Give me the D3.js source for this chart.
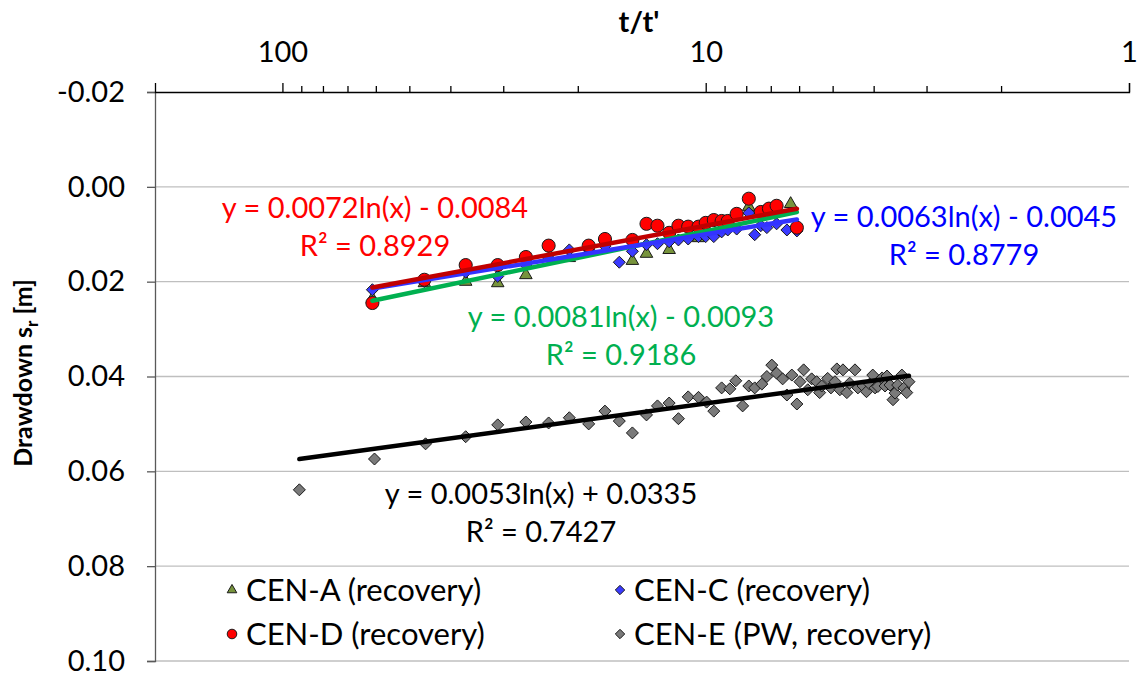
<!DOCTYPE html>
<html>
<head>
<meta charset="utf-8">
<script src="https://cdn.jsdelivr.net/npm/d3@7"></script>
<style>
  body { margin: 0; background: #fff; }
  svg text { font-family: Lato, "Open Sans", sans-serif; }
</style>
</head>
<body>
<div id="chart"></div>
<script>
// t/t' and drawdown s_r [m]
var cenA = [
  [61.3, 0.0236], [46.2, 0.0203], [36.9, 0.0200], [31.0, 0.0203], [26.6, 0.0186],
  [21.0, 0.0150], [14.9, 0.0156], [13.8, 0.0141], [12.2, 0.0133], [10.4, 0.0108],
  [7.91, 0.0042], [6.30, 0.0036]
];
var cenC = [
  [61.3, 0.0217], [46.2, 0.0200], [36.9, 0.0180], [31.0, 0.0189], [26.6, 0.0165],
  [23.5, 0.0150], [21.0, 0.0133], [18.9, 0.0133], [17.3, 0.0125], [16.0, 0.0159],
  [14.9, 0.0136], [13.8, 0.0122], [13.0, 0.0120], [12.2, 0.0116], [11.6, 0.0112],
  [11.0, 0.0110], [10.4, 0.0105], [10.0, 0.0105], [9.57, 0.0105], [9.17, 0.0095],
  [8.87, 0.0091], [8.45, 0.0089], [7.91, 0.0055], [7.66, 0.0101], [7.41, 0.0082],
  [7.17, 0.0086], [6.80, 0.0078], [6.43, 0.0091], [6.09, 0.0093]
];
var cenD = [
  [61.3, 0.0245], [46.2, 0.0196], [36.9, 0.0165], [31.0, 0.0165], [26.6, 0.0148],
  [23.5, 0.0124], [18.9, 0.0124], [17.3, 0.0110], [14.9, 0.0112], [13.8, 0.0078],
  [13.0, 0.0082], [12.2, 0.0097], [11.6, 0.0082], [11.0, 0.0084], [10.4, 0.0084],
  [10.0, 0.0076], [9.57, 0.0070], [9.17, 0.0072], [8.87, 0.0072], [8.45, 0.0057],
  [7.91, 0.0025], [7.41, 0.0053], [7.09, 0.0046], [6.80, 0.0040], [6.09, 0.0086]
];
var cenE = [
  [91.2, 0.0639], [60.6, 0.0574], [45.9, 0.0542], [36.9, 0.0527], [31.0, 0.0502],
  [26.6, 0.0496], [23.5, 0.0498], [21.0, 0.0487], [18.9, 0.0500], [17.3, 0.0473],
  [16.0, 0.0494], [14.9, 0.0519], [13.8, 0.0481], [13.0, 0.0462], [12.2, 0.0456],
  [11.6, 0.0489], [11.0, 0.0443], [10.4, 0.0444], [9.95, 0.0454], [9.57, 0.0473],
  [9.17, 0.0424], [8.77, 0.0426], [8.49, 0.0409], [8.18, 0.0462], [7.91, 0.0420],
  [7.66, 0.0424], [7.37, 0.0416], [7.17, 0.0400], [6.98, 0.0376], [6.80, 0.0393],
  [6.58, 0.0405], [6.43, 0.0439], [6.26, 0.0397], [6.09, 0.0458], [5.99, 0.0411],
  [5.87, 0.0386], [5.74, 0.0428], [5.62, 0.0405], [5.47, 0.0411], [5.38, 0.0434],
  [5.32, 0.0420], [5.15, 0.0404], [5.06, 0.0424], [4.95, 0.0411], [4.90, 0.0384],
  [4.82, 0.0428], [4.74, 0.0386], [4.64, 0.0434], [4.57, 0.0414], [4.44, 0.0386],
  [4.37, 0.0424], [4.25, 0.0420], [4.17, 0.0432], [4.10, 0.0416], [4.03, 0.0397],
  [3.98, 0.0424], [3.92, 0.0421], [3.83, 0.0403], [3.77, 0.0420], [3.73, 0.0399],
  [3.67, 0.0418], [3.61, 0.0449], [3.57, 0.0435], [3.52, 0.0418], [3.44, 0.0397],
  [3.40, 0.0424], [3.35, 0.0434], [3.31, 0.0411]
];

// log trendlines y = a ln(x) + b over [xFrom, xTo]
var trendNames = ["CEN-A", "CEN-C", "CEN-D", "CEN-E"];
var trendA = [0.0081, 0.0063, 0.0072, 0.0053];
var trendB = [-0.0093, -0.0045, -0.0084, 0.0335];
var trendFrom = [61.3, 61.3, 61.3, 91.2];
var trendTo = [6.09, 6.09, 6.09, 3.31];
var trendLabels = [
  ["y = 0.0081ln(x) - 0.0093", "R\u00b2 = 0.9186"],
  ["y = 0.0063ln(x) - 0.0045", "R\u00b2 = 0.8779"],
  ["y = 0.0072ln(x) - 0.0084", "R\u00b2 = 0.8929"],
  ["y = 0.0053ln(x) + 0.0335", "R\u00b2 = 0.7427"]
];

var xMajor = [100, 10, 1];
var xMinor = [90, 80, 70, 60, 50, 40, 30, 20, 9, 8, 7, 6, 5, 4, 3, 2];
var yTicks = [-0.02, 0, 0.02, 0.04, 0.06, 0.08, 0.10];

var width = 1143, height = 674;
var margin = { left: 155, right: 14, top: 92, bottom: 13 };

var svg = d3.select("#chart").append("svg")
  .attr("width", width)
  .attr("height", height);

var x = d3.scaleLog().domain([200, 1]).range([margin.left, width - margin.right]);
var y = d3.scaleLinear().domain([-0.02, 0.10]).range([margin.top, height - margin.bottom]);

// square diamond like the spreadsheet marker
var diamond = {
  draw: function(ctx, size) {
    var r = Math.sqrt(size / 2);
    ctx.moveTo(0, -r);
    ctx.lineTo(r, 0);
    ctx.lineTo(0, r);
    ctx.lineTo(-r, 0);
    ctx.closePath();
  }
};

// gridlines
svg.append("g").selectAll("line")
  .data(yTicks.slice(1))
  .enter().append("line")
  .attr("x1", margin.left).attr("x2", width - margin.right)
  .attr("y1", d => y(d)).attr("y2", d => y(d))
  .attr("stroke", "#bfbfbf").attr("stroke-width", 1.3);

// y axis
var yAxis = d3.axisLeft(y).tickValues(yTicks).tickSize(8).tickPadding(22)
  .tickFormat(d3.format(".2f"));
var yAxisG = svg.append("g")
  .attr("transform", "translate(" + margin.left + ",0)")
  .call(yAxis);
yAxisG.select(".domain").attr("stroke", "#595959").attr("stroke-width", 1.3);
yAxisG.selectAll(".tick line").attr("stroke", "#595959").attr("stroke-width", 1.3);
yAxisG.selectAll("text").style("font-size", "29px").attr("fill", "#000")
  .text(d => d3.format(".2f")(d).replace("\u2212", "-"));

// x axis on top, reversed log
var xAxisG = svg.append("g")
  .attr("transform", "translate(0," + margin.top + ")")
  .call(d3.axisTop(x).tickValues(xMajor).tickSize(9).tickPadding(21).tickFormat(d3.format("d")));
xAxisG.select(".domain").attr("stroke", "#000").attr("stroke-width", 1.3);
xAxisG.selectAll(".tick line").attr("stroke", "#000").attr("stroke-width", 1.3);
xAxisG.selectAll("text").style("font-size", "29px").attr("fill", "#000");

svg.append("g").selectAll("line")
  .data(xMinor)
  .enter().append("line")
  .attr("x1", d => x(d)).attr("x2", d => x(d))
  .attr("y1", margin.top).attr("y2", margin.top - 6)
  .attr("stroke", "#000").attr("stroke-width", 1.3);

// axis titles
svg.append("text")
  .attr("x", 639).attr("y", 32)
  .attr("text-anchor", "middle")
  .style("font-size", "29px").style("font-weight", "bold")
  .text("t/t'");

var yTitle = svg.append("text")
  .attr("transform", "translate(32,373) rotate(-90)")
  .attr("text-anchor", "middle")
  .style("font-size", "25px").style("font-weight", "bold");
yTitle.append("tspan").text("Drawdown s");
yTitle.append("tspan").attr("dy", 6).style("font-size", "17px").text("r");
yTitle.append("tspan").attr("dy", -6).text(" [m]");

// markers
var series = [
  { data: cenA, shape: d3.symbolTriangle, size: 68, legendSize: 40, fill: "#77933c", label: "CEN-A (recovery)" },
  { data: cenC, shape: diamond, size: 72, legendSize: 44, fill: "#3a3aff", label: "CEN-C (recovery)" },
  { data: cenD, shape: d3.symbolCircle, size: 135, legendSize: 72, fill: "#ff0000", label: "CEN-D (recovery)" },
  { data: cenE, shape: diamond, size: 72, legendSize: 44, fill: "#7a7a7a", label: "CEN-E (PW, recovery)" }
];

series.forEach(function(s) {
  svg.append("g").selectAll("path")
    .data(s.data)
    .enter().append("path")
    .attr("d", d3.symbol().type(s.shape).size(s.size))
    .attr("transform", d => "translate(" + x(d[0]) + "," + y(d[1]) + ")")
    .attr("fill", s.fill)
    .attr("stroke", "#1a1a1a")
    .attr("stroke-width", 1);
});

// trendlines
var trendColors = ["#00b050", "#3333ff", "#c00000", "#000000"];
trendNames.forEach(function(name, i) {
  var f = v => trendA[i] * Math.log(v) + trendB[i];
  svg.append("line")
    .attr("x1", x(trendFrom[i])).attr("y1", y(f(trendFrom[i])))
    .attr("x2", x(trendTo[i])).attr("y2", y(f(trendTo[i])))
    .attr("stroke", trendColors[i])
    .attr("stroke-width", 4.5)
    .attr("stroke-linecap", "round");
});

// trendline equations
var labelColors = ["#00b050", "#0000ff", "#ff0000", "#000000"];
var labelPos = [[621, 327], [964, 227], [375, 218], [541, 504]];
trendLabels.forEach(function(lines, i) {
  var t = svg.append("text")
    .attr("text-anchor", "middle")
    .attr("fill", labelColors[i])
    .style("font-size", "29px");
  lines.forEach(function(line, j) {
    t.append("tspan")
      .attr("x", labelPos[i][0])
      .attr("y", labelPos[i][1] + j * 38)
      .text(line);
  });
});

// legend
var legendPos = [[232, 590], [620, 590], [232, 634], [620, 634]];
var legend = svg.append("g").selectAll("g")
  .data(series)
  .enter().append("g")
  .attr("transform", (d, i) => "translate(" + legendPos[i][0] + "," + legendPos[i][1] + ")");
legend.append("path")
  .attr("d", d => d3.symbol().type(d.shape).size(d.legendSize)())
  .attr("fill", d => d.fill)
  .attr("stroke", "#1a1a1a")
  .attr("stroke-width", 1);
legend.append("text")
  .attr("x", 14)
  .attr("dy", "0.35em")
  .style("font-size", "31px")
  .text(d => d.label);
</script>
</body>
</html>
